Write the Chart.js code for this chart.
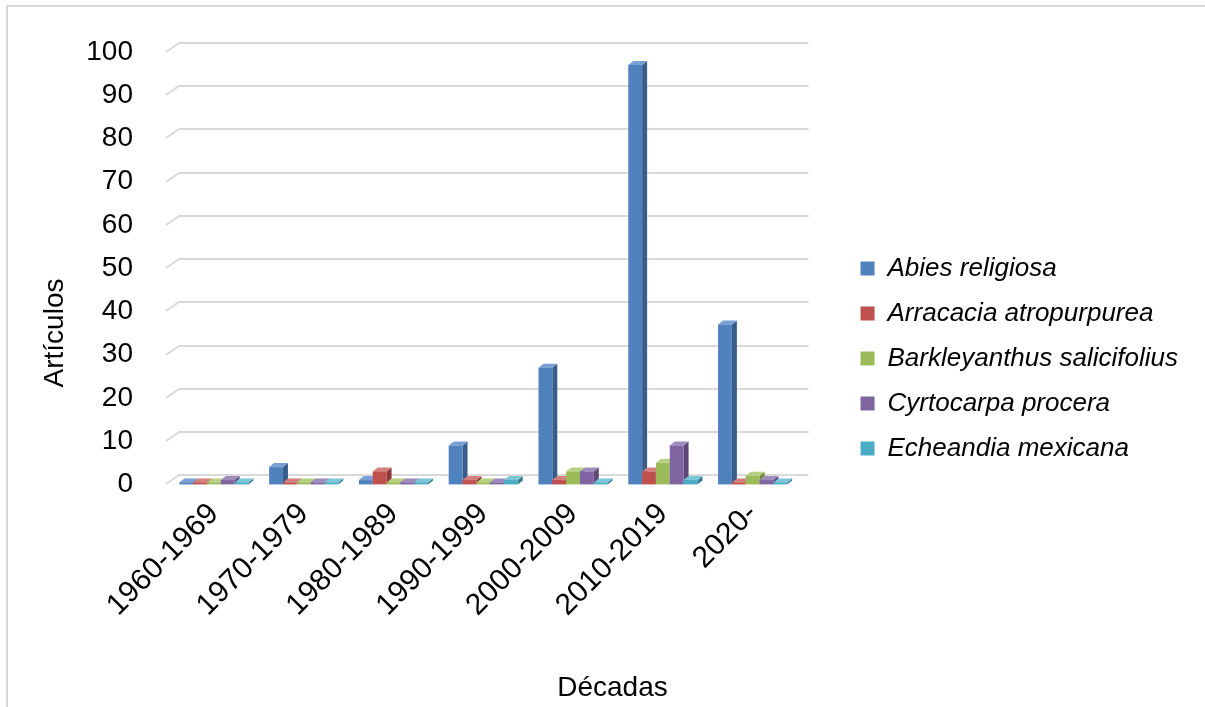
<!DOCTYPE html>
<html>
<head>
<meta charset="utf-8">
<script src="https://cdn.jsdelivr.net/npm/chart.js@4.4.1/dist/chart.umd.min.js"></script>
<style>
  html, body { margin: 0; padding: 0; background: #fff; }
  canvas { display: block; }
</style>
</head>
<body>
<canvas id="grafico" width="1205" height="707"></canvas>
<script>
// decadas y articulos por especie
var decadas = ['1960-1969', '1970-1979', '1980-1989', '1990-1999', '2000-2009', '2010-2019', '2020-'];
var especies = ['Abies religiosa', 'Arracacia atropurpurea', 'Barkleyanthus salicifolius', 'Cyrtocarpa procera', 'Echeandia mexicana'];
var abies      = [0, 4, 1, 9, 27, 97, 37];
var arracacia  = [0, 0, 3, 1, 1, 3, 0];
var barkley    = [0, 0, 0, 0, 3, 5, 2];
var cyrtocarpa = [1, 0, 0, 0, 3, 9, 1];
var echeandia  = [0, 0, 0, 1, 0, 1, 0];
var ticksY = [0, 10, 20, 30, 40, 50, 60, 70, 80, 90, 100];

var frente = ['#4f81bd', '#c0504d', '#9bbb59', '#8064a2', '#4bacc6'];
var lado   = ['#385d8a', '#8c3836', '#71893f', '#5c4776', '#357d91'];
var arriba = ['#78a0d4', '#d6807e', '#b6d17f', '#a08bbd', '#7cc6d9'];

var series = [abies, arracacia, barkley, cyrtocarpa, echeandia];
var datasets = [];
for (var i = 0; i < series.length; i++) {
  datasets.push({
    label: especies[i],
    data: series[i],
    backgroundColor: frente[i],
    borderWidth: 0,
    categoryPercentage: 0.77,
    barPercentage: 1.0
  });
}

var fuente = 'Liberation Sans, Arial, sans-serif';

// marco, cuadricula y barras en falso 3D
var fondo3d = {
  id: 'fondo3d',
  beforeDraw: function(chart) {
    var ctx = chart.ctx;
    ctx.save();
    ctx.strokeStyle = '#d9d9d9';
    ctx.lineWidth = 2;
    ctx.beginPath();
    ctx.moveTo(7, 707);
    ctx.lineTo(7, 6);
    ctx.lineTo(1205, 6);
    ctx.stroke();
    ctx.restore();
  },
  beforeDatasetsDraw: function(chart) {
    var ctx = chart.ctx;
    var y = chart.scales.y;
    var a = chart.chartArea;
    ctx.save();
    ctx.strokeStyle = '#d9d9d9';
    ctx.lineWidth = 2;
    ticksY.forEach(function(v) {
      var py = Math.round(y.getPixelForValue(v));
      ctx.beginPath();
      ctx.moveTo(a.left - 3, py);
      ctx.lineTo(a.left + 10, py - 9);
      ctx.lineTo(a.right + 11, py - 9);
      ctx.stroke();
    });
    ctx.restore();
  },
  beforeDatasetDraw: function() {
    return false;
  },
  afterDatasetsDraw: function(chart) {
    var ctx = chart.ctx;
    var dx = 5, dy = 4;
    ctx.save();
    for (var c = 0; c < decadas.length; c++) {
      for (var d = 0; d < datasets.length; d++) {
        var el = chart.getDatasetMeta(d).data[c];
        var p = el.getProps(['x', 'y', 'base', 'width'], true);
        var l = p.x - p.width / 2, r = p.x + p.width / 2;
        var top = Math.min(p.y, p.base - 2);
        var b = p.base;
        ctx.fillStyle = lado[d];
        ctx.beginPath();
        ctx.moveTo(r, top);
        ctx.lineTo(r + dx, top - dy);
        ctx.lineTo(r + dx, b - dy);
        ctx.lineTo(r, b);
        ctx.closePath();
        ctx.fill();
        ctx.fillStyle = arriba[d];
        ctx.beginPath();
        ctx.moveTo(l, top);
        ctx.lineTo(l + dx, top - dy);
        ctx.lineTo(r + dx, top - dy);
        ctx.lineTo(r, top);
        ctx.closePath();
        ctx.fill();
        ctx.fillStyle = frente[d];
        ctx.fillRect(l, top, p.width, b - top);
      }
    }
    ctx.restore();
  },
  afterDraw: function(chart) {
    var ctx = chart.ctx;
    ctx.save();
    ctx.translate(55, 333);
    ctx.rotate(-Math.PI / 2);
    ctx.fillStyle = '#000';
    ctx.font = '28px ' + fuente;
    ctx.textAlign = 'center';
    ctx.textBaseline = 'middle';
    ctx.fillText('Artículos', 0, 0);
    ctx.restore();
  }
};

new Chart(document.getElementById('grafico'), {
  type: 'bar',
  data: { labels: decadas, datasets: datasets },
  plugins: [fondo3d],
  options: {
    responsive: false,
    animation: false,
    layout: { padding: { top: 10, left: 37, right: 17, bottom: 0 } },
    scales: {
      y: {
        min: 0,
        max: 100,
        afterFit: function(s) { s.width = 132; },
        afterBuildTicks: function(s) { s.ticks = ticksY.map(function(v) { return { value: v }; }); },
        ticks: { color: '#000', font: { family: fuente, size: 28 }, padding: 28 },
        grid: { display: false },
        border: { display: false }
      },
      x: {
        afterFit: function(s) { s.height = 187; },
        ticks: { color: '#000', font: { family: fuente, size: 30 }, maxRotation: 45, minRotation: 45, padding: 4 },
        grid: { display: false },
        border: { display: false }
      },
      // espacio reservado arriba y a la derecha del area de trazado
      margenArriba: {
        type: 'linear',
        position: 'top',
        afterFit: function(s) { s.height = 42; },
        ticks: { display: false },
        grid: { display: false },
        border: { display: false }
      },
      margenDerecha: {
        type: 'linear',
        position: 'right',
        afterFit: function(s) { s.width = 44; },
        ticks: { display: false },
        grid: { display: false },
        border: { display: false }
      }
    },
    plugins: {
      legend: {
        position: 'right',
        maxWidth: 500,
        labels: {
          color: '#000',
          boxWidth: 14,
          boxHeight: 14,
          padding: 19,
          font: { family: fuente, size: 26, style: 'italic' }
        }
      },
      title: {
        display: true,
        position: 'bottom',
        text: 'Décadas',
        color: '#000',
        font: { family: fuente, size: 28, weight: 'normal' },
        padding: { top: 0, bottom: 2 }
      },
      tooltip: { enabled: false }
    }
  }
});
</script>
</body>
</html>
